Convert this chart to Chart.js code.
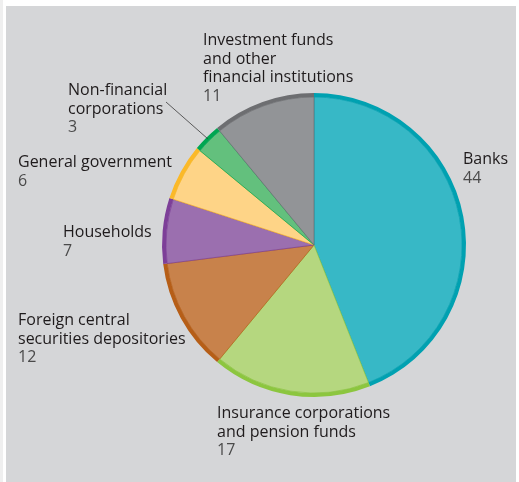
<!DOCTYPE html>
<html>
<head>
<meta charset="utf-8">
<script src="https://cdn.jsdelivr.net/npm/chart.js@4/dist/chart.umd.min.js"></script>
<style>
  html, body { margin: 0; padding: 0; background: #fff; }
  #wrap { width: 519px; height: 482px; }
</style>
</head>
<body>
<div id="wrap"><canvas id="pie" width="519" height="482"></canvas></div>
<script>
const sectors = [
  ["Banks"],
  ["Insurance corporations", "and pension funds"],
  ["Foreign central", "securities depositories"],
  ["Households"],
  ["General government"],
  ["Non-financial", "corporations"],
  ["Investment funds", "and other", "financial institutions"],
];
const shares = [44, 17, 12, 7, 6, 3, 11];
const fillColors = ["#37b8c6", "#b5d77f", "#c8824b", "#9b6faf", "#fed487", "#63c07d", "#929497"];
const edgeColors = ["#00a1b1", "#8cc63f", "#b65e17", "#7d3f98", "#fbb928", "#00a651", "#6d6e71"];

// where each label block starts (left x, first baseline)
const labelSpots = [
  [463, 164], [217, 418], [18, 325], [63, 237], [18, 167], [68, 95], [203, 45],
];

const panel = {
  id: "panel",
  beforeDraw(chart) {
    const c = chart.ctx;
    c.save();
    c.fillStyle = "#ffffff";
    c.fillRect(0, 0, chart.width, chart.height);
    c.fillStyle = "#efefef";
    c.fillRect(0, 0, 3, chart.height);
    c.fillStyle = "#d5d6d8";
    c.fillRect(6, 6, chart.width - 9, chart.height - 6);
    c.restore();
  },
};

const labels = {
  id: "labels",
  afterDraw(chart) {
    const c = chart.ctx;
    c.save();
    // leader for the small green slice
    const arc = chart.getDatasetMeta(0).data[5];
    const mid = (arc.startAngle + arc.endAngle) / 2;
    c.strokeStyle = "#3a3a3a";
    c.lineWidth = 0.8;
    c.beginPath();
    c.moveTo(166, 102);
    c.lineTo(arc.x + Math.cos(mid) * (arc.outerRadius - 2), arc.y + Math.sin(mid) * (arc.outerRadius - 2));
    c.stroke();

    c.textBaseline = "alphabetic";
    c.textAlign = "left";
    sectors.forEach((lines, i) => {
      const [x, y] = labelSpots[i];
      c.font = "16px 'Open Sans'";
      c.fillStyle = "#1f1b1c";
      lines.forEach((t, k) => c.fillText(t, x, y + k * 18.5));
      c.fillStyle = "#4a4a4a";
      c.fillText(String(shares[i]), x, y + lines.length * 18.5);
    });
    c.restore();
  },
};

new Chart(document.getElementById("pie"), {
  type: "pie",
  data: {
    labels: sectors.map((s) => s.join(" ")),
    datasets: [
      {
        data: shares,
        backgroundColor: edgeColors,
        borderWidth: 0,
        weight: 1,
      },
      {
        data: shares,
        backgroundColor: fillColors,
        borderColor: edgeColors,
        borderWidth: 0.7,
        weight: 37,
      },
    ],
  },
  options: {
    responsive: false,
    animation: false,
    layout: { padding: { left: 162, right: 53, top: 93, bottom: 85 } },
    plugins: {
      legend: { display: false },
      tooltip: { enabled: false },
    },
  },
  plugins: [panel, labels],
});
</script>
</body>
</html>
